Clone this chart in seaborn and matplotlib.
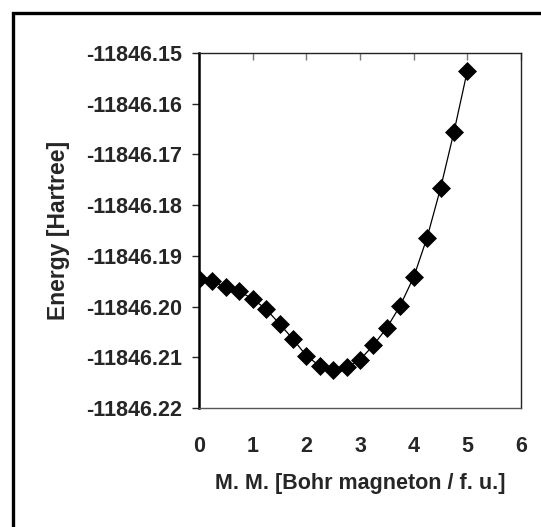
import numpy as np
import matplotlib.pyplot as plt
import matplotlib.ticker as mticker
from matplotlib.patches import Rectangle
import seaborn as sns

# magnetic moment (Bohr magneton / f.u.) and total energy (Hartree)
moment = [0.0, 0.25, 0.5, 0.75, 1.0, 1.25, 1.5, 1.75, 2.0, 2.25, 2.5,
          2.75, 3.0, 3.25, 3.5, 3.75, 4.0, 4.25, 4.5, 4.75, 5.0]
energy = [-11846.1945, -11846.1950, -11846.1962, -11846.1970, -11846.1985,
          -11846.2005, -11846.2034, -11846.2064, -11846.2097, -11846.2117,
          -11846.2125, -11846.2120, -11846.2105, -11846.2076, -11846.2042,
          -11846.1998, -11846.1942, -11846.1864, -11846.1767, -11846.1656,
          -11846.1535]

xticks = [0, 1, 2, 3, 4, 5, 6]
yticks = [-11846.22, -11846.21, -11846.20, -11846.19,
          -11846.18, -11846.17, -11846.16, -11846.15]

sns.set_style("white")
plt.rcParams['font.family'] = ['Liberation Sans', 'DejaVu Sans']
plt.rcParams['font.weight'] = 'bold'

FS = 15.5
W, H = 541, 527
fig = plt.figure(figsize=(W / 100, H / 100), dpi=100)
ax = fig.add_axes([199 / W, (H - 408) / H, 322 / W, 355 / H])

sns.lineplot(x=moment, y=energy, ax=ax, color='black', linewidth=0.9,
             marker='D', markersize=9.5, markeredgecolor='black',
             markeredgewidth=0.5)

ax.set_xlim(0, 6)
ax.set_ylim(-11846.22, -11846.15)
ax.set_xticks(xticks)
ax.set_yticks(yticks)
ax.yaxis.set_major_formatter(mticker.FormatStrFormatter('%.2f'))

ax.tick_params(axis='x', which='both', bottom=False, top=True, direction='in',
               length=5, width=1, labelsize=FS, pad=20, labelbottom=True,
               color='#777777')
ax.tick_params(axis='y', direction='out', left=True, length=5, width=1,
               labelsize=FS, pad=7)
for lab in ax.get_xticklabels() + ax.get_yticklabels():
    lab.set_fontweight('bold')

for side in ['top', 'right']:
    ax.spines[side].set_linewidth(1.0)
    ax.spines[side].set_color('#222222')
ax.spines['left'].set_linewidth(1.8)
ax.spines['left'].set_color('black')
ax.spines['bottom'].set_linewidth(1.0)
ax.spines['bottom'].set_color('#555555')

ax.set_xlabel('M. M. [Bohr magneton / f. u.]', fontsize=FS, fontweight='bold',
              labelpad=12)
ax.set_ylabel('Energy [Hartree]', fontsize=16.5, fontweight='bold',
              labelpad=12)

# outer frame
fig.patches.append(Rectangle((12.5 / W, -0.2), 1.3, 1 - 12.5 / H + 0.2,
                             transform=fig.transFigure, fill=False,
                             edgecolor='black', linewidth=2.4))

fig.savefig('out.png', dpi=100)
